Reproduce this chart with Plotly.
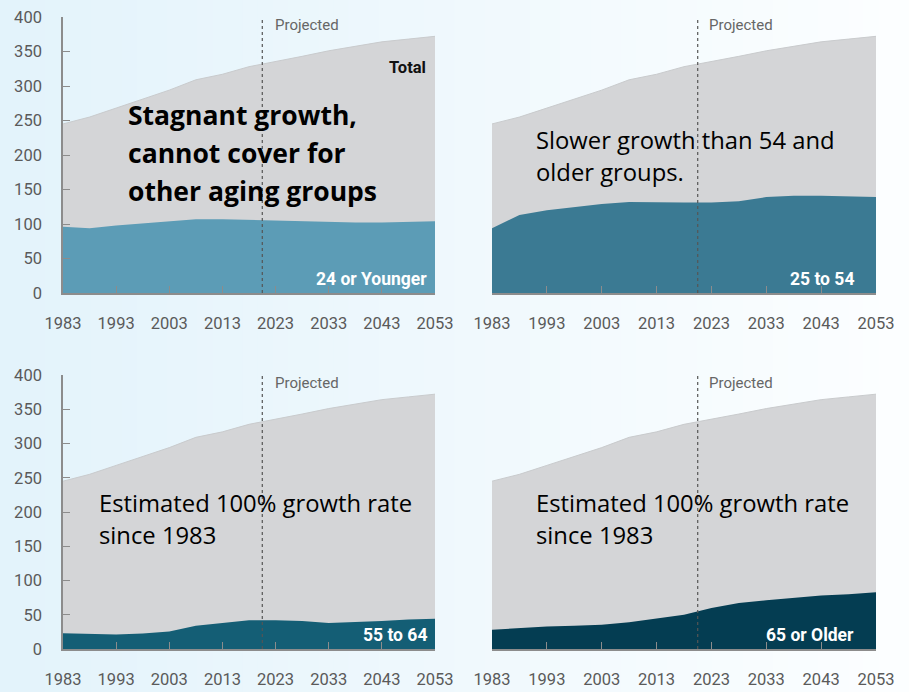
import plotly.graph_objects as go

# ---------------- data ----------------
years = [1983, 1988, 1993, 1998, 2003, 2008, 2013, 2018, 2023, 2028, 2033, 2038, 2043, 2048, 2053]
total = [245, 255, 268, 281, 294, 309, 317, 328, 335, 343, 351, 357, 364, 368, 372]
age_24_or_younger = [96, 94, 98, 101, 103, 107, 107, 106, 104, 103, 102, 102, 102, 103, 104]
age_25_to_54 = [94, 113, 120, 125, 129, 132, 131, 131, 131, 133, 139, 141, 141, 140, 139]
age_55_to_64 = [23, 22.5, 21, 22.5, 25.5, 34, 38, 42, 42, 41, 38, 39, 41, 43, 44]
age_65_or_older = [28, 30.5, 33, 34, 35.5, 39, 44, 50, 60, 67, 71, 75, 78, 80, 83]

x_tick_years = [1983, 1993, 2003, 2013, 2023, 2033, 2043, 2053]
y_tick_values = [0, 50, 100, 150, 200, 250, 300, 350, 400]
projected_year = 2020.5

group_names = ["24 or Younger", "25 to 54", "55 to 64", "65 or Older"]
group_values = [age_24_or_younger, age_25_to_54, age_55_to_64, age_65_or_older]
group_colors = ["#5c9cb6", "#3b7a93", "#145e75", "#043d52"]

notes = [
    ["Stagnant growth,", "cannot cover for", "other aging groups"],
    ["Slower growth than 54 and", "older groups."],
    ["Estimated 100% growth rate", "since 1983"],
    ["Estimated 100% growth rate", "since 1983"],
]

# ---------------- layout helpers ----------------
W, H = 909, 692
FONT = "Roboto"
NOTE_FONT = "Open Sans"
GRAY_FILL = "#d4d5d7"
GRAY_EDGE = "#c9cbcd"
AXIS_COLOR = "#8c8c8c"
TICK_FONT_COLOR = "#5a5a5a"


def px(x):
    return x / W


def py(y):
    return 1 - y / H


# panel pixel boxes: (left, right, top(y=400), bottom(y=0))
panels = [
    (63, 435, 17, 293),
    (492, 876, 17, 293),
    (63, 435, 375, 649),
    (492, 876, 375, 649),
]

fig = go.Figure()

# background gradient (light blue -> white)
c0 = (227, 243, 251)
c1 = (252, 254, 255)
n_strips = 60
for i in range(n_strips):
    t = i / (n_strips - 1)
    col = tuple(round(a + (b - a) * t) for a, b in zip(c0, c1))
    fig.add_shape(type="rect", xref="paper", yref="paper",
                  x0=i / n_strips, x1=(i + 1) / n_strips + 0.002, y0=0, y1=1,
                  fillcolor="rgb(%d,%d,%d)" % col, line_width=0, layer="below")

for k, (l, r, top, bot) in enumerate(panels):
    idx = "" if k == 0 else str(k + 1)
    xa, ya = "x" + idx, "y" + idx
    # total (gray)
    fig.add_trace(go.Scatter(x=years, y=total, xaxis=xa, yaxis=ya, mode="lines",
                             line=dict(width=1, color=GRAY_EDGE), fill="tozeroy",
                             fillcolor=GRAY_FILL, showlegend=False, hoverinfo="skip"))
    # group band
    fig.add_trace(go.Scatter(x=years, y=group_values[k], xaxis=xa, yaxis=ya, mode="lines",
                             line=dict(width=0, color=group_colors[k]), fill="tozeroy",
                             fillcolor=group_colors[k], showlegend=False, hoverinfo="skip"))
    left_panel = k in (0, 2)
    fig.layout["xaxis" + idx] = dict(
        domain=[px(l), px(r)], anchor=ya, range=[1983, 2053], automargin=False,
        tickvals=x_tick_years, ticktext=[str(v) for v in x_tick_years],
        ticks="inside", ticklen=7, tickwidth=1.2, tickcolor=AXIS_COLOR,
        showline=True, linecolor=AXIS_COLOR, linewidth=1.5,
        showgrid=False, zeroline=False, ticklabelstandoff=14,
        tickfont=dict(family=FONT, size=16.5, color=TICK_FONT_COLOR), fixedrange=True)
    fig.layout["yaxis" + idx] = dict(
        domain=[py(bot), py(top)], anchor=xa, range=[0, 400], automargin=False,
        tickvals=y_tick_values if left_panel else [],
        ticks="inside" if left_panel else "", ticklen=7, tickwidth=1.2, tickcolor=AXIS_COLOR,
        showline=left_panel, linecolor=AXIS_COLOR, linewidth=1.5,
        showticklabels=left_panel, showgrid=False, zeroline=False,
        ticklabelstandoff=16,
        tickfont=dict(family=FONT, size=16.5, color=TICK_FONT_COLOR), fixedrange=True)

    # projected dotted line
    fig.add_shape(type="line", xref=xa, yref=ya, x0=projected_year, x1=projected_year,
                  y0=0, y1=400, line=dict(color="#555555", width=1.2, dash="dot"))
    # "Projected"
    fig.add_annotation(xref="paper", yref="paper", x=px(l + 210 if left_panel else l + 215),
                       y=py(top + 8), text="Projected", showarrow=False,
                       xanchor="left", yanchor="middle",
                       font=dict(family=FONT, size=15, color="#666666"))
    # group label (white, bold)
    fig.add_annotation(xref="paper", yref="paper", x=px(r - 6 if left_panel else r - 20),
                       y=py(bot - 14), text="<b>%s</b>" % group_names[k], showarrow=False,
                       xanchor="right", yanchor="middle",
                       font=dict(family=FONT, size=17.5, color="white"))

# "Total" label
fig.add_annotation(xref="paper", yref="paper", x=px(428), y=py(67), text="<b>Total</b>",
                   showarrow=False, xanchor="right", yanchor="middle",
                   font=dict(family=FONT, size=16.5, color="#111111"))

# commentary text
note_pos = [
    (126, [115, 153, 191], 26.5, True),
    (534, [140, 172], 23.8, False),
    (97, [503, 535], 23.8, False),
    (534, [503, 535], 23.8, False),
]
for lines, (x0, ys, size, bold) in zip(notes, note_pos):
    for line, yy in zip(lines, ys):
        fig.add_annotation(xref="paper", yref="paper", x=px(x0), y=py(yy),
                           text="<b>%s</b>" % line if bold else line, showarrow=False,
                           xanchor="left", yanchor="middle",
                           font=dict(family=NOTE_FONT, size=size, color="#000000"))

fig.update_layout(
    width=W, height=H, margin=dict(l=0, r=0, t=0, b=0),
    paper_bgcolor="white", plot_bgcolor="rgba(0,0,0,0)",
    showlegend=False, font=dict(family=FONT),
)

fig.write_html("out.html", config={"displayModeBar": False},
               post_script="document.body.style.margin='0';")
